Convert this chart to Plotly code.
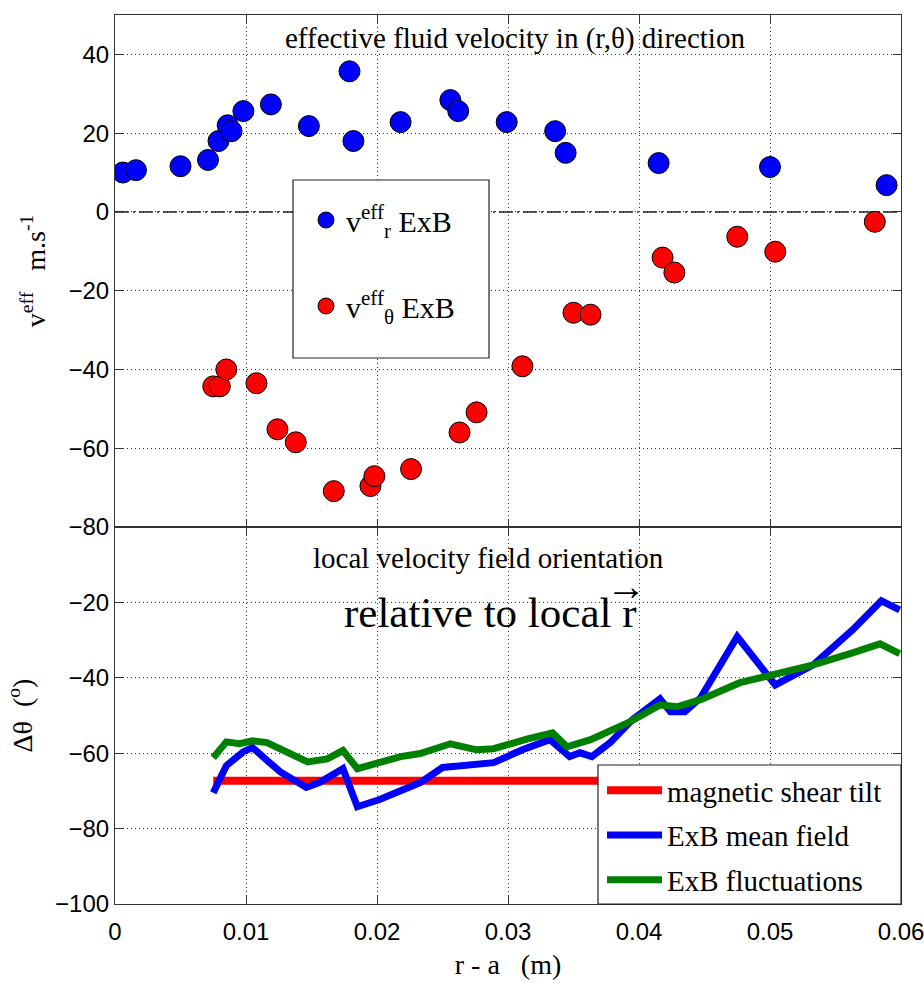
import plotly.graph_objects as go

# ---- top panel: effective fluid velocity (m/s) ----
vr_x = [0.0006, 0.0016, 0.0050, 0.0071, 0.0079, 0.0086, 0.0089, 0.0098, 0.0119, 0.0148,
        0.0179, 0.0182, 0.0218, 0.0256, 0.0262, 0.0299, 0.0336, 0.0344, 0.0415, 0.0500, 0.0589]
vr_y = [10.0, 10.6, 11.6, 13.2, 18.0, 22.0, 20.5, 25.6, 27.3, 21.8,
        35.7, 18.0, 22.8, 28.4, 25.6, 22.8, 20.5, 15.0, 12.4, 11.4, 6.8]

vt_x = [0.0075, 0.0080, 0.0085, 0.0108, 0.0124, 0.0138, 0.0167, 0.0195, 0.0198, 0.0226,
        0.0263, 0.0276, 0.0311, 0.0350, 0.0363, 0.0418, 0.0427, 0.0475, 0.0504, 0.0580]
vt_y = [-44.3, -44.3, -40.0, -43.5, -55.2, -58.5, -70.9, -69.6, -67.1, -65.3,
        -56.0, -50.9, -39.2, -25.6, -26.1, -11.6, -15.4, -6.3, -10.1, -2.5]

# ---- bottom panel: orientation (degrees) ----
shear_x = [0.0075, 0.0600]
shear_y = [-67.3, -67.3]

mean_x = [0.0075, 0.0085, 0.0098, 0.0105, 0.0118, 0.0126, 0.0146, 0.0156, 0.0174, 0.0185,
          0.0202, 0.0233, 0.0250, 0.0289, 0.0311, 0.0332, 0.0347, 0.0355, 0.0364, 0.0378,
          0.0395, 0.0416, 0.0424, 0.0435, 0.0447, 0.0475, 0.0504, 0.0533, 0.0563, 0.0585, 0.0599]
mean_y = [-70.5, -63.3, -59.6, -58.5, -62.5, -64.9, -69.1, -67.8, -64.1, -74.2,
          -72.3, -67.8, -63.8, -62.5, -59.1, -56.4, -60.9, -59.9, -60.9, -57.2,
          -51.1, -45.6, -49.0, -49.0, -45.3, -29.1, -41.9, -36.6, -27.3, -19.6, -22.0]

fluc_x = [0.0075, 0.0085, 0.0095, 0.0105, 0.0116, 0.0126, 0.0147, 0.0162, 0.0174, 0.0185,
          0.0200, 0.0218, 0.0233, 0.0256, 0.0276, 0.0289, 0.0315, 0.0334, 0.0345, 0.0363,
          0.0393, 0.0416, 0.0429, 0.0447, 0.0477, 0.0502, 0.0533, 0.0563, 0.0584, 0.0599]
fluc_y = [-61.2, -57.0, -57.5, -56.7, -57.2, -58.8, -62.3, -61.5, -59.3, -64.1,
          -62.5, -60.9, -60.1, -57.5, -59.1, -58.8, -56.2, -54.6, -58.3, -56.4,
          -51.7, -47.2, -47.7, -45.8, -41.3, -39.2, -36.6, -33.4, -31.0, -33.6]

x_ticks = [0, 0.01, 0.02, 0.03, 0.04, 0.05, 0.06]
x_tick_text = ["0", "0.01", "0.02", "0.03", "0.04", "0.05", "0.06"]
top_y_ticks = [-80, -60, -40, -20, 0, 20, 40]
bot_y_ticks = [-100, -80, -60, -40, -20]

SERIF = "Liberation Serif"
SANS = "Liberation Sans"

# pixel helpers for paper coordinates (plot area: x 115..901, y 15..904)
def px(xp):
    return (xp - 115) / 786

def py(yp):
    return (904 - yp) / 889

fig = go.Figure()

fig.add_trace(go.Scatter(x=vr_x, y=vr_y, mode="markers", xaxis="x2", yaxis="y2",
                         name="v<sup>eff</sup><sub>r</sub> ExB", legend="legend", legendgroup="a",
                         marker=dict(size=21, color="#0000ff", line=dict(color="black", width=1))))
fig.add_trace(go.Scatter(x=vt_x, y=vt_y, mode="markers", xaxis="x2", yaxis="y2",
                         name="v<sup>eff</sup><sub>θ</sub> ExB", legend="legend", legendgroup="b",
                         marker=dict(size=21, color="#ff0000", line=dict(color="black", width=1))))

fig.add_trace(go.Scatter(x=shear_x, y=shear_y, mode="lines", xaxis="x", yaxis="y",
                         name="magnetic shear tilt", legend="legend2", legendgroup="c",
                         line=dict(color="#ff0000", width=8)))
fig.add_trace(go.Scatter(x=mean_x, y=mean_y, mode="lines", xaxis="x", yaxis="y",
                         name="ExB mean field", legend="legend2", legendgroup="d",
                         line=dict(color="#0000ff", width=7)))
fig.add_trace(go.Scatter(x=fluc_x, y=fluc_y, mode="lines", xaxis="x", yaxis="y",
                         name="ExB fluctuations", legend="legend2", legendgroup="e",
                         line=dict(color="#008000", width=7)))

split = 0.4241
axis_common = dict(showline=True, linecolor="#333333", linewidth=1.2, mirror="ticks",
                   ticks="inside", ticklen=8, tickcolor="#333333", automargin=False,
                   showgrid=True, gridcolor="#333333", gridwidth=1, griddash="1px,3px",
                   zeroline=False, tickfont=dict(family=SANS, size=24, color="black"))

fig.update_layout(
    width=924, height=988,
    margin=dict(l=115, r=23, t=15, b=84),
    paper_bgcolor="white", plot_bgcolor="white",
    showlegend=True,
    xaxis=dict(domain=[0, 1], anchor="y", range=[0, 0.06], tickvals=x_ticks, ticktext=x_tick_text,
               ticklabeloverflow="allow", ticklabelstandoff=6,
               title=dict(text="r - a   (m)", font=dict(family=SERIF, size=28, color="black"), standoff=10),
               **axis_common),
    yaxis=dict(domain=[0, split], anchor="x", range=[-100, 0], tickvals=bot_y_ticks,
               title=dict(text="Δθ  (<sup>o</sup>)", font=dict(family=SERIF, size=28, color="black"), standoff=14),
               **axis_common),
    xaxis2=dict(domain=[0, 1], anchor="y2", range=[0, 0.06], tickvals=x_ticks, showticklabels=False,
                matches="x", **axis_common),
    yaxis2=dict(domain=[split, 1], anchor="x2", range=[-80, 50], tickvals=top_y_ticks,
                title=dict(text="v<sup>eff</sup>   m.s<sup>-1</sup>", font=dict(family=SERIF, size=28, color="black"), standoff=14),
                **axis_common),
    legend=dict(x=px(306), y=py(194), xanchor="left", yanchor="top",
                bgcolor="rgba(0,0,0,0)", borderwidth=0,
                font=dict(family=SERIF, size=30, color="black"), tracegroupgap=44,
                itemsizing="trace"),
    legend2=dict(x=px(602), y=py(765), xanchor="left", yanchor="top",
                 bgcolor="rgba(0,0,0,0)", borderwidth=0, itemwidth=55,
                 font=dict(family=SERIF, size=29, color="black"), tracegroupgap=4),
    shapes=[
        dict(type="line", xref="x2", yref="y2", x0=0, x1=0.06, y0=0, y1=0,
             line=dict(color="#222222", width=1.5, dash="14px,4px,2px,4px"), layer="above"),
        dict(type="rect", xref="paper", yref="paper", x0=px(293), x1=px(489), y0=py(358), y1=py(180),
             fillcolor="white", line=dict(color="#222222", width=1.2), layer="above"),
        dict(type="rect", xref="paper", yref="paper", x0=px(598), x1=1, y0=0, y1=py(765),
             fillcolor="white", line=dict(color="#222222", width=1.2), layer="above"),
    ],
    annotations=[
        dict(text="effective fluid velocity in (r,θ) direction", xref="paper", yref="paper",
             x=px(515), y=py(38), xanchor="center", yanchor="middle",
             showarrow=False, font=dict(family=SERIF, size=29, color="black")),
        dict(text="local velocity field orientation", xref="paper", yref="paper",
             x=px(488), y=py(558), xanchor="center", yanchor="middle",
             showarrow=False, font=dict(family=SERIF, size=29, color="black")),
        dict(text="relative to local r", xref="paper", yref="paper",
             x=px(490), y=py(612), xanchor="center", yanchor="middle",
             showarrow=False, font=dict(family=SERIF, size=43, color="black")),
        dict(text="→", xref="paper", yref="paper",
             x=px(626), y=py(586), xanchor="center", yanchor="middle",
             showarrow=False, font=dict(family=SERIF, size=40, color="black")),
    ],
)

fig.write_html("out.html")
